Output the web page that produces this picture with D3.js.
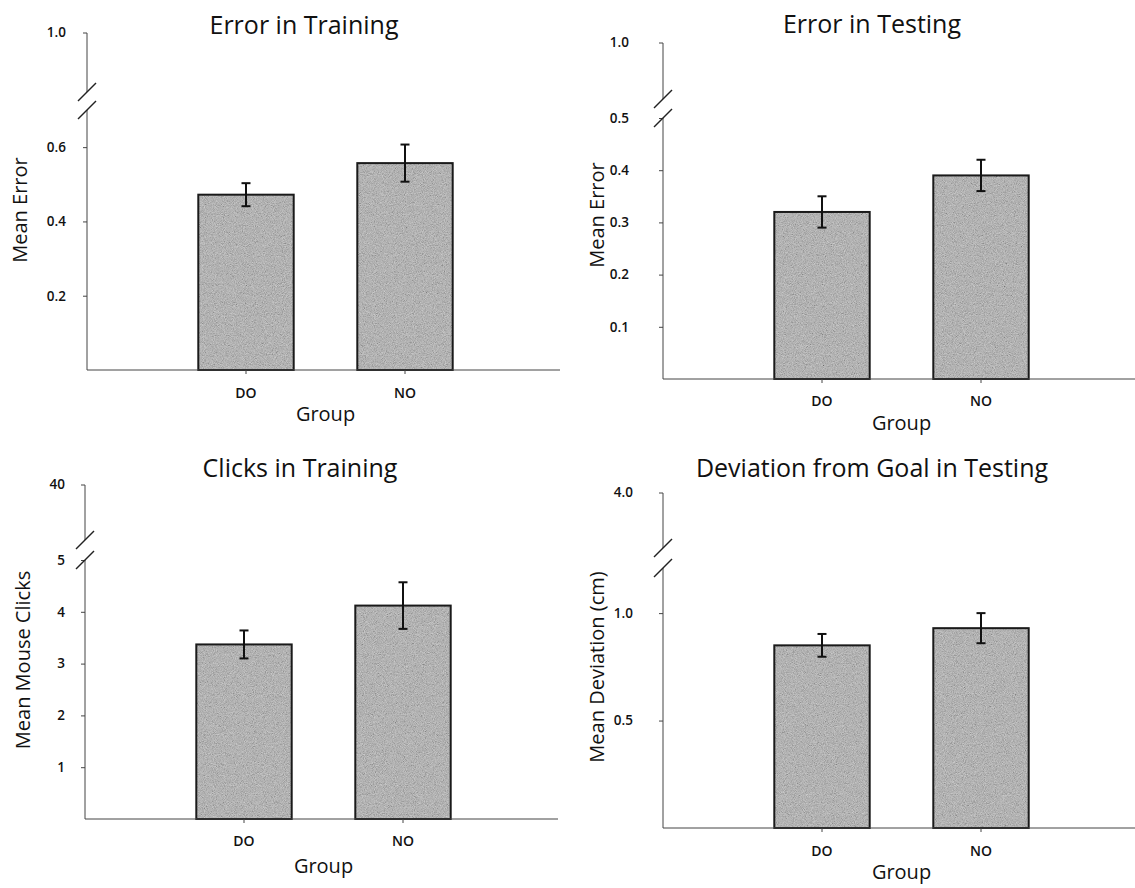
<!DOCTYPE html>
<html>
<head>
<meta charset="utf-8">
<script src="https://cdn.jsdelivr.net/npm/d3@7"></script>
<style>
  body { margin: 0; background: #fff; }
  svg { display: block; font-family: 'Open Sans', sans-serif; }
</style>
</head>
<body>
<svg id="chart" width="1135" height="888"></svg>
<script>
// groups on the x axis
const groups = ["DO", "NO"];

// panel texts
const panelTitles = ["Error in Training", "Error in Testing", "Clicks in Training", "Deviation from Goal in Testing"];
const yLabels = ["Mean Error", "Mean Error", "Mean Mouse Clicks", "Mean Deviation (cm)"];
const xLabel = "Group";

// means and error bar half-widths
const trainErrorMean = [0.472, 0.557];
const trainErrorSE = [0.031, 0.05];
const testErrorMean = [0.32, 0.39];
const testErrorSE = [0.03, 0.03];
const clicksMean = [3.37, 4.12];
const clicksSE = [0.27, 0.45];
const deviationMean = [0.85, 0.93];
const deviationSE = [0.053, 0.07];

// broken y axis: ticks under the break, label above it, top of lower part
const lowerTicks = [[0.2, 0.4, 0.6], [0.1, 0.2, 0.3, 0.4, 0.5], [1, 2, 3, 4, 5], [0.5, 1.0]];
const upperTickLabels = ["1.0", "1.0", "40", "4.0"];
const lowerMax = [0.7, 0.5, 5, 1.21];
const tickFormats = [".1f", ".1f", "d", ".1f"];

const means = [trainErrorMean, testErrorMean, clicksMean, deviationMean];
const errs = [trainErrorSE, testErrorSE, clicksSE, deviationSE];

// where each panel sits on the page
const layout = [
  {ax: 87,  top: 33,  breakU: 92,  breakL: 110, zero: 370, gap: 21, titleX: 304, titleY: 25,  ylabX: 20,  ylabY: 210, catY: 395, groupY: 414},
  {ax: 663, top: 43,  breakU: 99,  breakL: 118, zero: 379, gap: 34, titleX: 872, titleY: 24,  ylabX: 597, ylabY: 215, catY: 403, groupY: 423},
  {ax: 85,  top: 485, breakU: 540, breakL: 560, zero: 819, gap: 20, titleX: 300, titleY: 468, ylabX: 23,  ylabY: 660, catY: 843, groupY: 866},
  {ax: 663, top: 493, breakU: 548, breakL: 568, zero: 828, gap: 30, titleX: 872, titleY: 468, ylabX: 597, ylabY: 667, catY: 853, groupY: 872}
];
const axisLen = 473;

const svg = d3.select("#chart");

// grainy grey like the scanned print
const defs = svg.append("defs");
const grain = defs.append("filter").attr("id", "grain")
  .attr("x", 0).attr("y", 0).attr("width", 1).attr("height", 1);
grain.append("feTurbulence").attr("type", "fractalNoise")
  .attr("baseFrequency", 1.1).attr("numOctaves", 2).attr("seed", 4);
grain.append("feColorMatrix").attr("type", "matrix")
  .attr("values", "0.5 0.5 0.5 0 -0.25  0.5 0.5 0.5 0 -0.25  0.5 0.5 0.5 0 -0.25  0 0 0 0 1");

function slash(g, x, y) {
  g.append("line")
    .attr("x1", x - 9).attr("y1", y + 9)
    .attr("x2", x + 9).attr("y2", y - 9)
    .attr("stroke", "#222").attr("stroke-width", 1.4);
}

function drawPanel(i) {
  const L = layout[i];
  const g = svg.append("g");

  const y = d3.scaleLinear().domain([0, lowerMax[i]]).range([L.zero, L.breakL]);
  const x = d3.scaleBand().domain(groups)
    .range([L.ax + 79.5, L.ax + 397.5])
    .paddingInner(0.4).paddingOuter(0.2);

  // bars
  const bars = g.append("g").selectAll("g").data(groups).join("g");
  bars.append("rect")
    .attr("x", d => x(d)).attr("width", x.bandwidth())
    .attr("y", (d, j) => y(means[i][j]))
    .attr("height", (d, j) => L.zero - y(means[i][j]))
    .attr("fill", "#a9a9a9");
  bars.append("rect")
    .attr("x", d => x(d)).attr("width", x.bandwidth())
    .attr("y", (d, j) => y(means[i][j]))
    .attr("height", (d, j) => L.zero - y(means[i][j]))
    .attr("fill", "#fff").attr("filter", "url(#grain)").attr("opacity", 0.5);
  bars.append("rect")
    .attr("x", d => x(d)).attr("width", x.bandwidth())
    .attr("y", (d, j) => y(means[i][j]))
    .attr("height", (d, j) => L.zero - y(means[i][j]))
    .attr("fill", "none").attr("stroke", "#1a1a1a").attr("stroke-width", 2);

  // error bars
  const cx = d => x(d) + x.bandwidth() / 2;
  bars.append("line")
    .attr("x1", cx).attr("x2", cx)
    .attr("y1", (d, j) => y(means[i][j] + errs[i][j]))
    .attr("y2", (d, j) => y(means[i][j] - errs[i][j]))
    .attr("stroke", "#111").attr("stroke-width", 2);
  [1, -1].forEach(s => {
    bars.append("line")
      .attr("x1", d => cx(d) - 4.5).attr("x2", d => cx(d) + 4.5)
      .attr("y1", (d, j) => y(means[i][j] + s * errs[i][j]))
      .attr("y2", (d, j) => y(means[i][j] + s * errs[i][j]))
      .attr("stroke", "#111").attr("stroke-width", 2);
  });

  // y axis, lower part
  const yAxis = d3.axisLeft(y).tickValues(lowerTicks[i])
    .tickFormat(d3.format(tickFormats[i])).tickSize(4).tickPadding(L.gap - 4);
  const ya = g.append("g").attr("transform", `translate(${L.ax},0)`).call(yAxis);
  ya.select(".domain").attr("d", `M0,${L.zero}V${L.breakL}`);
  ya.selectAll("line").attr("stroke", "#444");
  ya.selectAll(".domain").attr("stroke", "#444");
  ya.attr("font-size", null).attr("font-family", null);
  ya.selectAll("text").style("font-size", "13.5px").attr("font-weight", 600).attr("fill", "#111");

  // y axis, part above the break
  g.append("line").attr("x1", L.ax).attr("x2", L.ax)
    .attr("y1", L.top).attr("y2", L.breakU).attr("stroke", "#444");
  g.append("line").attr("x1", L.ax - 4).attr("x2", L.ax)
    .attr("y1", L.top).attr("y2", L.top).attr("stroke", "#444");
  g.append("text").attr("x", L.ax - L.gap).attr("y", L.top)
    .attr("dy", "0.32em").attr("text-anchor", "end")
    .style("font-size", "13.5px").attr("font-weight", 600).attr("fill", "#111")
    .text(upperTickLabels[i]);
  slash(g, L.ax, L.breakU);
  slash(g, L.ax, L.breakL);

  // x axis
  const xAxis = d3.axisBottom(x).tickSize(4).tickPadding(L.catY - L.zero - 11);
  const xa = g.append("g").attr("transform", `translate(0,${L.zero})`).call(xAxis);
  xa.select(".domain").attr("d", `M${L.ax},0H${L.ax + axisLen}`).attr("stroke", "#444");
  xa.selectAll("line").attr("stroke", "#444");
  xa.attr("font-size", null).attr("font-family", null);
  xa.selectAll("text").style("font-size", "14px").attr("font-weight", 600).attr("fill", "#111");

  // titles
  g.append("text").attr("x", L.titleX).attr("y", L.titleY).attr("dy", "0.35em")
    .attr("text-anchor", "middle").attr("font-size", 25).attr("fill", "#111")
    .text(panelTitles[i]);
  g.append("text").attr("x", (x("DO") + x("NO") + x.bandwidth()) / 2).attr("y", L.groupY)
    .attr("dy", "0.35em").attr("text-anchor", "middle").attr("font-size", 20).attr("fill", "#111")
    .text(xLabel);
  g.append("text")
    .attr("transform", `translate(${L.ylabX},${L.ylabY}) rotate(-90)`)
    .attr("dy", "0.35em").attr("text-anchor", "middle").attr("font-size", 20).attr("fill", "#111")
    .text(yLabels[i]);
}

for (let i = 0; i < 4; i++) drawPanel(i);
</script>
</body>
</html>
